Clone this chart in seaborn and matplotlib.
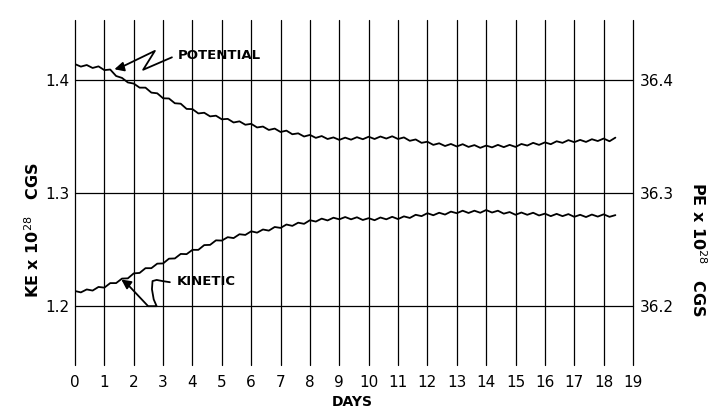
import matplotlib
matplotlib.use("Agg")
import matplotlib.pyplot as plt
import seaborn as sns
import pandas as pd

# ---- data ----
days = [0.0, 0.2, 0.4, 0.6, 0.8, 1.0, 1.2, 1.4, 1.6, 1.8,
        2.0, 2.2, 2.4, 2.6, 2.8, 3.0, 3.2, 3.4, 3.6, 3.8,
        4.0, 4.2, 4.4, 4.6, 4.8, 5.0, 5.2, 5.4, 5.6, 5.8,
        6.0, 6.2, 6.4, 6.6, 6.8, 7.0, 7.2, 7.4, 7.6, 7.8,
        8.0, 8.2, 8.4, 8.6, 8.8, 9.0, 9.2, 9.4, 9.6, 9.8,
        10.0, 10.2, 10.4, 10.6, 10.8, 11.0, 11.2, 11.4, 11.6, 11.8,
        12.0, 12.2, 12.4, 12.6, 12.8, 13.0, 13.2, 13.4, 13.6, 13.8,
        14.0, 14.2, 14.4, 14.6, 14.8, 15.0, 15.2, 15.4, 15.6, 15.8,
        16.0, 16.2, 16.4, 16.6, 16.8, 17.0, 17.2, 17.4, 17.6, 17.8,
        18.0, 18.2, 18.4]

kinetic = [1.2134, 1.2122, 1.2148, 1.2138, 1.2170, 1.2164, 1.2204, 1.2204, 1.2244, 1.2246,
           1.2290, 1.2294, 1.2336, 1.2336, 1.2376, 1.2378, 1.2420, 1.2422, 1.2462, 1.2460,
           1.2498, 1.2498, 1.2540, 1.2542, 1.2582, 1.2580, 1.2610, 1.2602, 1.2636, 1.2630,
           1.2662, 1.2650, 1.2678, 1.2668, 1.2700, 1.2692, 1.2722, 1.2710, 1.2738, 1.2728,
           1.2760, 1.2748, 1.2774, 1.2758, 1.2782, 1.2768, 1.2788, 1.2768, 1.2786, 1.2762,
           1.2778, 1.2760, 1.2784, 1.2768, 1.2790, 1.2770, 1.2794, 1.2780, 1.2808, 1.2796,
           1.2822, 1.2804, 1.2826, 1.2810, 1.2836, 1.2822, 1.2844, 1.2824, 1.2844, 1.2826,
           1.2850, 1.2828, 1.2844, 1.2818, 1.2832, 1.2808, 1.2828, 1.2808, 1.2826, 1.2802,
           1.2818, 1.2796, 1.2816, 1.2796, 1.2814, 1.2790, 1.2808, 1.2788, 1.2810, 1.2792,
           1.2812, 1.2790, 1.2805]

potential = [36.4140, 36.4118, 36.4132, 36.4106, 36.4120, 36.4087, 36.4092, 36.4035, 36.4018, 36.3978,
             36.3968, 36.3932, 36.3932, 36.3888, 36.3882, 36.3838, 36.3836, 36.3794, 36.3790, 36.3744,
             36.3742, 36.3704, 36.3710, 36.3678, 36.3684, 36.3652, 36.3656, 36.3624, 36.3634, 36.3604,
             36.3612, 36.3580, 36.3588, 36.3558, 36.3570, 36.3540, 36.3552, 36.3520, 36.3528, 36.3500,
             36.3514, 36.3488, 36.3504, 36.3478, 36.3492, 36.3470, 36.3490, 36.3472, 36.3494, 36.3476,
             36.3498, 36.3478, 36.3500, 36.3482, 36.3502, 36.3478, 36.3492, 36.3462, 36.3474, 36.3444,
             36.3454, 36.3426, 36.3440, 36.3416, 36.3434, 36.3412, 36.3432, 36.3408, 36.3424, 36.3400,
             36.3420, 36.3404, 36.3426, 36.3406, 36.3426, 36.3408, 36.3434, 36.3420, 36.3444, 36.3426,
             36.3448, 36.3432, 36.3458, 36.3444, 36.3468, 36.3450, 36.3470, 36.3452, 36.3476, 36.3460,
             36.3482, 36.3458, 36.3490]

x_ticks = list(range(0, 20))
ke_ticks = [1.2, 1.3, 1.4]
pe_ticks = [36.2, 36.3, 36.4]
ke_limits = (1.148, 1.453)
pe_offset = 35.0

df = pd.DataFrame({"days": days, "kinetic": kinetic, "potential": potential})

sns.set_style("white")
plt.rcParams["font.family"] = ["DejaVu Sans"]
plt.rcParams["text.color"] = "black"

fig = plt.figure(figsize=(7.11, 4.09), dpi=100)
ax = fig.add_axes([75 / 711, 1 - 365 / 409, (633 - 75) / 711, (365 - 20) / 409])

sns.lineplot(data=df, x="days", y="kinetic", ax=ax, color="black", lw=1.3)
ax.set_xlim(0, 19)
ax.set_ylim(*ke_limits)
ax.set_xticks(x_ticks)
ax.set_xticklabels([str(t) for t in x_ticks], fontsize=11)
ax.set_yticks(ke_ticks)
ax.set_yticklabels([f"{t:.1f}" for t in ke_ticks], fontsize=11)
ax.grid(True, color="black", lw=0.9)
for gl in ax.get_xgridlines() + ax.get_ygridlines():
    gl.set_clip_on(False)
ax.tick_params(axis="both", length=0, colors="black")
ax.tick_params(axis="x", pad=7)
ax.tick_params(axis="y", pad=4)
ax.set_xlabel("")
ax.set_ylabel("")
for s in ax.spines.values():
    s.set_visible(False)

ax2 = ax.twinx()
sns.lineplot(data=df, x="days", y="potential", ax=ax2, color="black", lw=1.3)
ax2.set_ylim(ke_limits[0] + pe_offset, ke_limits[1] + pe_offset)
ax2.set_yticks(pe_ticks)
ax2.set_yticklabels([f"{t:.1f}" for t in pe_ticks], fontsize=11)
ax2.tick_params(axis="y", length=0, pad=5, colors="black")
ax2.set_ylabel("")
ax2.grid(False)
for s in ax2.spines.values():
    s.set_visible(False)

# POTENTIAL annotation (zigzag arrow)
ax.plot([3.30, 2.32, 2.72, 1.55], [1.4200, 1.4090, 1.4257, 1.4110],
        color="black", lw=1.3, clip_on=False)
ax.annotate("", xy=(1.25, 1.4088), xytext=(1.60, 1.4113),
            arrowprops=dict(arrowstyle="-|>", color="black", lw=1.3,
                            mutation_scale=14))
ax.text(3.50, 1.4220, "POTENTIAL", fontsize=9.5, fontweight="bold",
        va="center", ha="left", color="black")

# KINETIC annotation (hooked arrow)
ax.plot([3.23, 2.98, 2.78, 2.64, 2.62, 2.68, 2.78, 2.49, 1.80],
        [1.2212, 1.2222, 1.2232, 1.2222, 1.2150, 1.2060, 1.2000, 1.2000, 1.2190],
        color="black", lw=1.3)
ax.annotate("", xy=(1.50, 1.2250), xytext=(1.85, 1.2185),
            arrowprops=dict(arrowstyle="-|>", color="black", lw=1.3,
                            mutation_scale=14))
ax.text(3.47, 1.2220, "KINETIC", fontsize=9.5, fontweight="bold",
        va="center", ha="left", color="black")

fig.text(352 / 711, 1 - 402 / 409, "DAYS", fontsize=10, fontweight="bold",
         ha="center", va="center", color="black")
fig.text(33 / 711, 1 - 230 / 409, "KE x 10$^{28}$   CGS", fontsize=11.5,
         fontweight="bold", rotation=90, ha="center", va="center", color="black")
fig.text(698 / 711, 1 - 250 / 409, "PE x 10$^{28}$   CGS", fontsize=11.5,
         fontweight="bold", rotation=-90, ha="center", va="center", color="black")

fig.savefig("out.png", dpi=100)
